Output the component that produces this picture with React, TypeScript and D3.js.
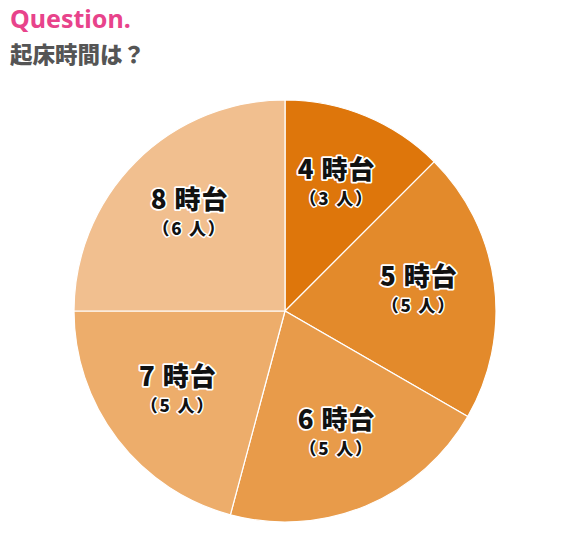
import React from "react";
import * as d3 from "d3";

const hours = ["4 時台", "5 時台", "6 時台", "7 時台", "8 時台"];
const counts = [3, 5, 5, 5, 6];
const countLabels = ["（3 人）", "（5 人）", "（5 人）", "（5 人）", "（6 人）"];
const colors = ["#de760b", "#e38a2b", "#e89b4a", "#edad6b", "#f1bf8f"];

const width = 570;
const height = 540;
const cx = 285;
const cy = 311;
const radius = 211;

const App: React.FC = () => {
  const pie = d3
    .pie<number>()
    .sort(null)
    .value((d) => d);
  const arcs = pie(counts);

  const arc = d3.arc<d3.PieArcDatum<number>>().innerRadius(0).outerRadius(radius);
  const labelArc = d3
    .arc<d3.PieArcDatum<number>>()
    .innerRadius(135)
    .outerRadius(135);

  const font = "'Noto Sans CJK JP', 'Noto Sans', sans-serif";

  return (
    <svg
      width={width}
      height={height}
      style={{ position: "absolute", left: 0, top: 0, background: "#fff" }}
    >
      <text
        x={10}
        y={28}
        fill="#e8438b"
        fontSize={25}
        fontWeight="bold"
        fontFamily="'Noto Sans', sans-serif"
      >
        Question.
      </text>
      <text
        x={10}
        y={63}
        fill="#555555"
        fontSize={22.5}
        fontWeight={900}
        fontFamily={font}
      >
        起床時間は？
      </text>

      <g transform={`translate(${cx},${cy})`}>
        {arcs.map((a, i) => (
          <path
            key={hours[i]}
            d={arc(a) ?? ""}
            fill={colors[i]}
            stroke="#fff"
            strokeWidth={1.2}
          />
        ))}
        {arcs.map((a, i) => {
          const [lx, ly] = labelArc.centroid(a);
          return (
            <g key={"l" + i} transform={`translate(${lx},${ly})`} fontFamily={font} fontWeight={900} textAnchor="middle">
              <text
                y={-7}
                fontSize={26}
                letterSpacing={1}
                fill="#111"
                stroke="#fff"
                strokeWidth={3.5}
                strokeLinejoin="round"
                paintOrder="stroke"
              >
                {hours[i]}
              </text>
              <text
                y={19}
                fontSize={17}
                letterSpacing={1.8}
                fill="#111"
                stroke="#fff"
                strokeWidth={3}
                strokeLinejoin="round"
                paintOrder="stroke"
              >
                {countLabels[i]}
              </text>
            </g>
          );
        })}
      </g>
    </svg>
  );
};

export default App;
